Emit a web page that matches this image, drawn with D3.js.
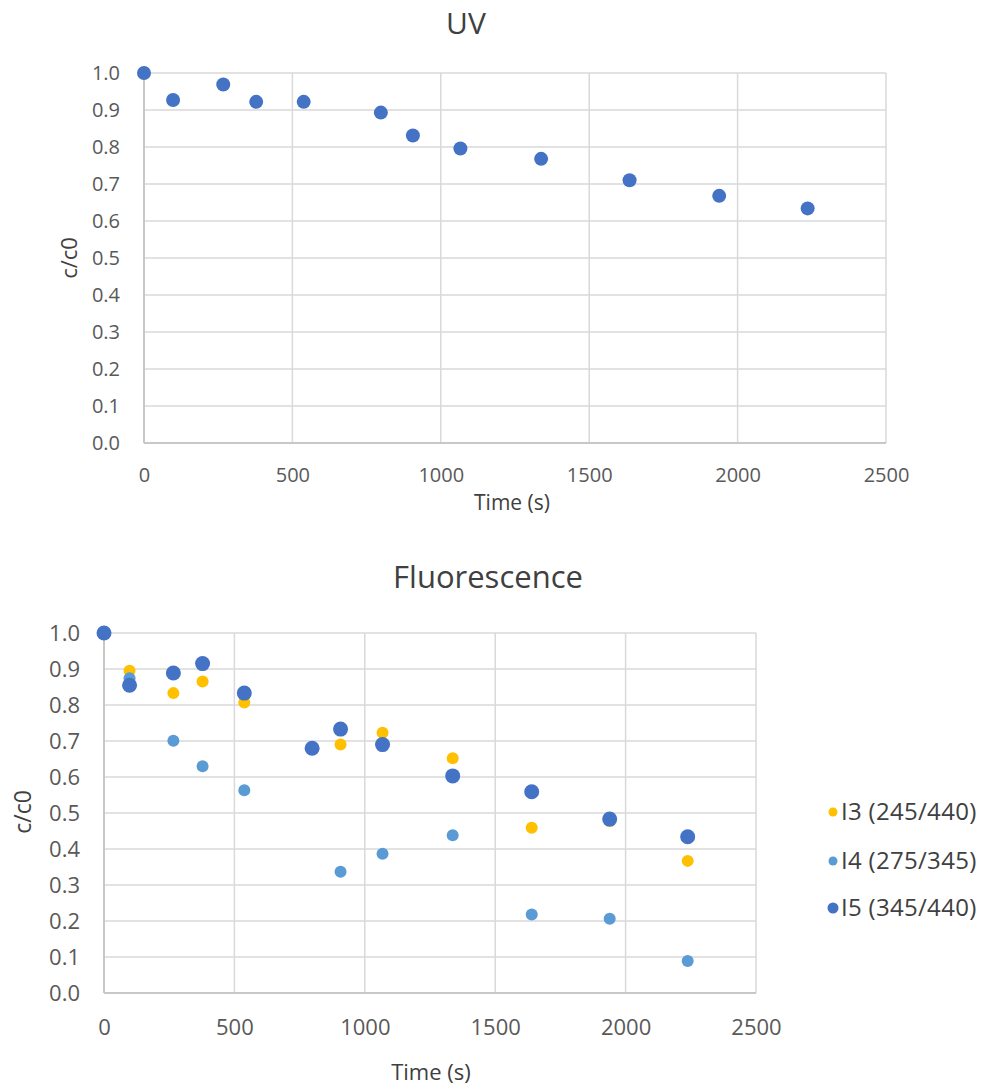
<!DOCTYPE html>
<html>
<head>
<meta charset="utf-8">
<script src="https://cdn.jsdelivr.net/npm/d3@7"></script>
<style>
  body { margin: 0; background: #fff; }
  svg { display: block; font-family: "Open Sans", "Noto Sans", sans-serif; }
</style>
</head>
<body>
<svg id="chart" width="987" height="1086"></svg>
<script>
// ---- data ----
const uvTime = [0, 98, 267, 378, 538, 798, 906, 1066, 1338, 1636, 1938, 2236];
const uvValues = [1.0, 0.927, 0.969, 0.922, 0.922, 0.893, 0.831, 0.796, 0.768, 0.710, 0.668, 0.634];

const flTime = [0, 98, 266, 378, 538, 798, 907, 1068, 1337, 1640, 1939, 2238];
const i3Values = [1.0, 0.895, 0.833, 0.865, 0.807, null, 0.690, 0.723, 0.652, 0.459, 0.478, 0.367];
const i4Values = [1.0, 0.874, 0.701, 0.630, 0.563, null, 0.337, 0.387, 0.438, 0.218, 0.206, 0.089];
const i5Values = [1.0, 0.855, 0.889, 0.915, 0.833, 0.680, 0.733, 0.690, 0.603, 0.559, 0.483, 0.434];

const seriesNames = ["I3 (245/440)", "I4 (275/345)", "I5 (345/440)"];
const seriesColors = ["#FFC000", "#5B9BD5", "#4472C4"];
const seriesRadius = [6, 6, 7.5];

const xTicks = [0, 500, 1000, 1500, 2000, 2500];
const yTicks = [0, 0.1, 0.2, 0.3, 0.4, 0.5, 0.6, 0.7, 0.8, 0.9, 1.0];

const svg = d3.select("#chart");

function drawPanel(opts) {
  const { left, right, top, bottom, title, titleX, titleY, titleSize,
          tickSize, yLabelGap, xLabelGap, xTitleX, xTitleY, yTitleX, yTitleY, axisTitleSize } = opts;
  const x = d3.scaleLinear().domain([0, 2500]).range([left, right]);
  const y = d3.scaleLinear().domain([0, 1]).range([bottom, top]);
  const g = svg.append("g");

  // gridlines
  g.append("g").selectAll("line.h").data(yTicks.filter(d => d > 0)).join("line")
    .attr("x1", left).attr("x2", right)
    .attr("y1", d => y(d)).attr("y2", d => y(d))
    .attr("stroke", "#d9d9d9").attr("stroke-width", 1.5);
  g.append("g").selectAll("line.v").data(xTicks.filter(d => d > 0)).join("line")
    .attr("y1", top).attr("y2", bottom)
    .attr("x1", d => x(d)).attr("x2", d => x(d))
    .attr("stroke", "#d9d9d9").attr("stroke-width", 1.5);

  // axes lines
  g.append("line").attr("x1", left).attr("x2", left).attr("y1", top).attr("y2", bottom)
    .attr("stroke", "#c8c8c8").attr("stroke-width", 2);
  g.append("line").attr("x1", left).attr("x2", right).attr("y1", bottom).attr("y2", bottom)
    .attr("stroke", "#c8c8c8").attr("stroke-width", 2);

  // y axis labels
  const yAxis = d3.axisLeft(y).tickValues(yTicks).tickFormat(d3.format(".1f")).tickSize(0).tickPadding(yLabelGap);
  const ya = g.append("g").attr("transform", `translate(${left},0)`).call(yAxis);
  ya.select(".domain").remove();
  ya.selectAll("text").attr("fill", "#595959").attr("font-size", tickSize).attr("font-family", "Open Sans");

  // x axis labels
  const xAxis = d3.axisBottom(x).tickValues(xTicks).tickFormat(d3.format("d")).tickSize(0).tickPadding(xLabelGap);
  const xa = g.append("g").attr("transform", `translate(0,${bottom})`).call(xAxis);
  xa.select(".domain").remove();
  xa.selectAll("text").attr("fill", "#595959").attr("font-size", tickSize).attr("font-family", "Open Sans");

  // titles
  g.append("text").attr("x", titleX).attr("y", titleY).attr("text-anchor", "middle")
    .attr("font-size", titleSize).attr("fill", "#404040").text(title);
  g.append("text").attr("x", xTitleX).attr("y", xTitleY).attr("text-anchor", "middle")
    .attr("font-size", axisTitleSize).attr("fill", "#404040").text("Time (s)");
  g.append("text").attr("transform", `translate(${yTitleX},${yTitleY}) rotate(-90)`)
    .attr("text-anchor", "middle").attr("dy", "0.35em")
    .attr("font-size", axisTitleSize + 1).attr("fill", "#404040").text("c/c0");

  return { x, y, g };
}

// ---- UV panel ----
const uv = drawPanel({
  left: 144, right: 886, top: 73, bottom: 443,
  title: "UV", titleX: 466, titleY: 34, titleSize: 30,
  tickSize: 20, yLabelGap: 24, xLabelGap: 25,
  xTitleX: 512, xTitleY: 510, yTitleX: 69, yTitleY: 258, axisTitleSize: 21
});
uv.g.append("g").selectAll("circle").data(uvTime.map((t, i) => ({ t, v: uvValues[i] }))).join("circle")
  .attr("cx", d => uv.x(d.t)).attr("cy", d => uv.y(d.v)).attr("r", 7)
  .attr("fill", "#4472C4");

// ---- Fluorescence panel ----
const fl = drawPanel({
  left: 104, right: 756, top: 633, bottom: 993,
  title: "Fluorescence", titleX: 488, titleY: 588, titleSize: 31,
  tickSize: 22, yLabelGap: 24, xLabelGap: 26,
  xTitleX: 431, xTitleY: 1080, yTitleX: 23, yTitleY: 812, axisTitleSize: 22
});
const flSeries = [i3Values, i4Values, i5Values];
flSeries.forEach((vals, si) => {
  const pts = flTime.map((t, i) => ({ t, v: vals[i] })).filter(d => d.v !== null);
  fl.g.append("g").selectAll("circle").data(pts).join("circle")
    .attr("cx", d => fl.x(d.t)).attr("cy", d => fl.y(d.v)).attr("r", seriesRadius[si])
    .attr("fill", seriesColors[si]);
});

// legend
const legendY = [812, 861, 908];
const legend = svg.append("g");
seriesNames.forEach((name, i) => {
  legend.append("circle").attr("cx", 833).attr("cy", legendY[i]).attr("r", i === 2 ? 5.5 : 4.5)
    .attr("fill", seriesColors[i]);
  legend.append("text").attr("x", 841).attr("y", legendY[i]).attr("dy", "0.35em")
    .attr("font-size", 24).attr("letter-spacing", 0.3).attr("fill", "#404040").text(name);
});
</script>
</body>
</html>
